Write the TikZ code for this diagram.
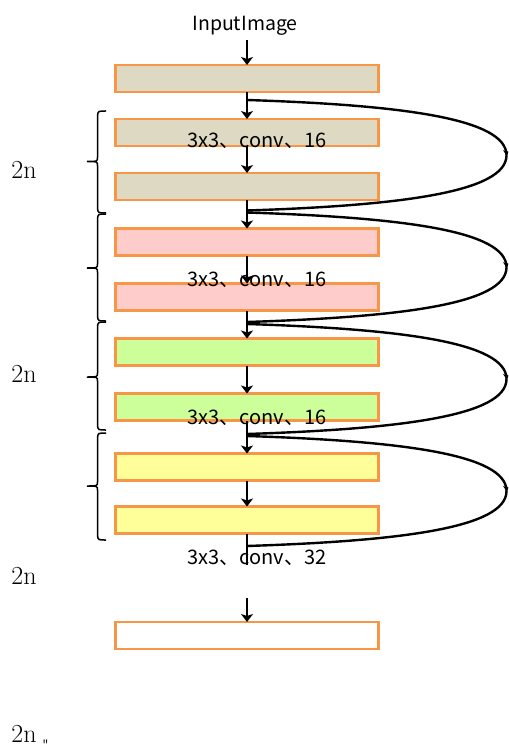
\documentclass[tikz,border=0pt]{standalone}
\usepackage{fontspec}
\newfontfamily\cjk{Noto Sans CJK SC}
\usetikzlibrary{arrows.meta,decorations.markings}
\definecolor{edge}{HTML}{F79646}
\definecolor{tan}{HTML}{DDD9C3}
\definecolor{rose}{HTML}{FFCCCC}
\definecolor{lime}{HTML}{CCFF99}
\definecolor{lemon}{HTML}{FFFF99}
\begin{document}
\begin{tikzpicture}[x=1pt,y=-1pt,
  layer/.style={draw=edge,line width=2.7pt,minimum width=263pt,minimum height=27pt,
    inner sep=0pt,outer sep=0pt},
  flow/.style={line width=1.8pt,-{Stealth[length=8pt,width=12pt,inset=2pt]}},
  trunk/.style={line width=1.8pt},
  skip/.style={line width=2.4pt,postaction={decorate},
    decoration={markings,mark=at position 0.5 with {\arrow{Stealth[length=5pt,width=7pt]}}}},
  brace/.style={line width=1.5pt},
  caption/.style={font=\cjk\fontsize{20}{22}\selectfont,inner sep=0pt,anchor=base},
  count/.style={font=\fontsize{26}{28}\selectfont,inner sep=0pt,anchor=base}]
\useasboundingbox (0,0) rectangle (508,751);
\clip (0,0) rectangle (508,751);

% layer stack
\node[layer,fill=tan]   (b1)  at (247,78.5) {};
\node[layer,fill=tan]   (b2)  at (247,132.5) {};
\node[layer,fill=tan]   (b3)  at (247,186.5) {};
\node[layer,fill=rose]  (b4)  at (247,242) {};
\node[layer,fill=rose]  (b5)  at (247,297) {};
\node[layer,fill=lime]  (b6)  at (247,352) {};
\node[layer,fill=lime]  (b7)  at (247,407) {};
\node[layer,fill=lemon] (b8)  at (247,467) {};
\node[layer,fill=lemon] (b9)  at (247,520) {};
\node[layer,fill=white] (b10) at (247,635.5) {};

% captions
\node[caption,font=\cjk\fontsize{19.5}{21}\selectfont] (inp) at (245,31) {InputImage};
\node[caption] (t1) at (257,148) {3x3、conv、16};
\node[caption] (t2) at (257,286) {3x3、conv、16};
\node[caption] (t3) at (257,424) {3x3、conv、16};
\node[caption] (t4) at (257,564) {3x3、conv、32};

% shortcut junctions on the main path
\coordinate (top) at (247,40);
\coordinate (j1) at (247,100);   \coordinate (e1) at (247,210.5);
\coordinate (j2) at (247,212.5); \coordinate (e2) at (247,322);
\coordinate (j3) at (247,324);   \coordinate (e3) at (247,434);
\coordinate (j4) at (247,436);   \coordinate (e4) at (247,546);
\coordinate (r1) at (506.5,155.25);
\coordinate (r2) at (506.5,267.25);
\coordinate (r3) at (506.5,379);
\coordinate (r4) at (506.5,491);
\coordinate (tail) at (247,565);
\coordinate (resume) at (247,598);

% main path
\draw[flow] (top) -- (b1.north);
\draw[flow] (b1.south) -- (b2.north);
\draw[flow] (b2.south) -- (b3.north);
\draw[flow] (b3.south) -- (b4.north);
\draw[flow] (b4.south) -- (b5.north);
\draw[flow] (b5.south) -- (b6.north);
\draw[flow] (b6.south) -- (b7.north);
\draw[flow] (b7.south) -- (b8.north);
\draw[flow] (b8.south) -- (b9.north);
\draw[trunk] (b9.south) -- (tail);
\draw[flow] (resume) -- (b10.north);

% shortcut connections
\foreach \k in {1,2,3,4}{
  \draw[skip] (j\k) .. controls +(153,5) and +(0,-37) .. (r\k)
                    .. controls +(0,37) and +(153,-5) .. (e\k);
}

% braces on the left
\foreach \a/\m/\b in {111/161.5/213, 214/268/321, 322/377/430, 433/486/540}{
  \draw[brace] (106,\a) .. controls (98,\a) .. (97.5,\a+5) -- (97.5,\m-4)
    .. controls (97.5,\m) .. (87,\m) .. controls (97.5,\m) .. (97.5,\m+4)
    -- (97.5,\b-5) .. controls (98,\b) .. (106,\b);
}

% block counts
\node[count] (n1) at (24,179) {2n};
\node[count] (n2) at (24,382) {2n};
\node[count] (n3) at (24,584) {2n};
\node[count] (n4) at (24,742) {2n};
\node[inner sep=0pt,anchor=north,font=\ttfamily\fontsize{14}{14}\selectfont] (q) at (45.5,740) {"};
\end{tikzpicture}
\end{document}
